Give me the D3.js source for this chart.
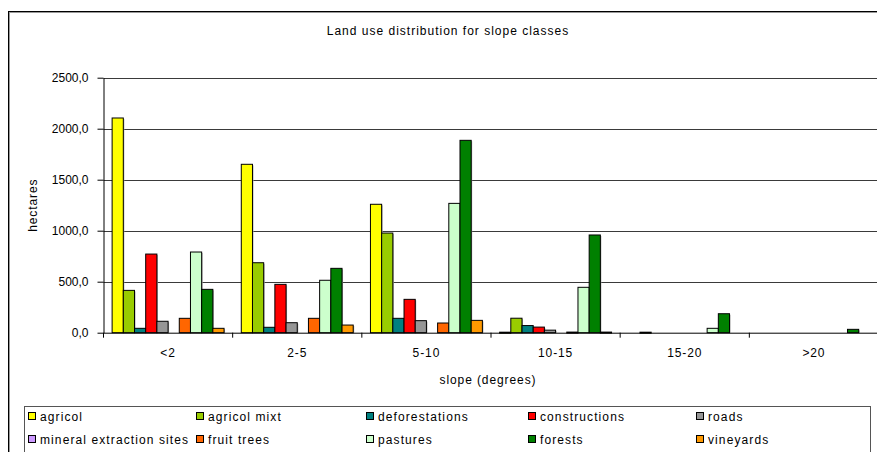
<!DOCTYPE html>
<html><head><meta charset="utf-8">
<script src="https://cdn.jsdelivr.net/npm/d3@7"></script>
<style>body{margin:0;background:#fff;}svg{display:block;font-family:"Liberation Sans",Arial,sans-serif;}</style>
</head><body><svg id="c" width="877" height="452"></svg>
<script>
const categories = ["<2", "2-5", "5-10", "10-15", "15-20", ">20"];
const seriesNames = ["agricol", "agricol mixt", "deforestations", "constructions", "roads",
  "mineral extraction sites", "fruit trees", "pastures", "forests", "vineyards"];
const seriesColors = ["#FFFF00", "#99CC00", "#008080", "#FF0000", "#969696",
  "#CC99FF", "#FF6600", "#CCFFCC", "#008000", "#FF9900"];
const agricol       = [2105, 1651, 1259, 5, 0, 0];
const agricolMixt   = [415, 686, 977, 142, 5, 0];
const deforestations= [43, 53, 141, 70, 0, 0];
const constructions = [771, 474, 327, 55, 0, 0];
const roads         = [112, 98, 118, 25, 0, 0];
const mineral       = [0, 0, 0, 0, 0, 0];
const fruitTrees    = [141, 141, 95, 6, 0, 0];
const pastures      = [791, 514, 1268, 445, 43, 0];
const forests       = [425, 631, 1886, 958, 186, 33];
const vineyards     = [43, 75, 121, 6, 0, 0];
const yTicks = [0, 500, 1000, 1500, 2000, 2500];

const seriesValues = [agricol, agricolMixt, deforestations, constructions, roads,
  mineral, fruitTrees, pastures, forests, vineyards];

const LS = "0.9px";
const svg = d3.select("#c");
// outer chart border
svg.append("rect").attr("x", 9.5).attr("y", 12.5).attr("width", 900).attr("height", 500)
  .attr("fill", "none").attr("stroke", "#999").attr("stroke-width", 1);
svg.append("rect").attr("x", 8.5).attr("y", 11.5).attr("width", 900).attr("height", 500)
  .attr("fill", "none").attr("stroke", "#000").attr("stroke-width", 1);

const L = 103.5, R = 878.5, T = 77.7, B = 332.7;
const x0 = d3.scaleBand().domain(categories).range([L, R]).paddingInner(0).paddingOuter(0);
const x1 = d3.scaleBand().domain(d3.range(seriesNames.length)).range([0, x0.bandwidth()])
  .paddingInner(0).paddingOuter(0.77);
const y = d3.scaleLinear().domain([0, 2500]).range([B, T]);

// title
svg.append("text").attr("x", 448).attr("y", 35).attr("text-anchor", "middle")
  .attr("font-size", 12).attr("letter-spacing", "1px").text("Land use distribution for slope classes");

// gridlines
svg.append("g").selectAll("line").data(yTicks.filter(d => d > 0)).join("line")
  .attr("x1", L).attr("x2", R + 10).attr("y1", d => Math.round(y(d)) + 0.5).attr("y2", d => Math.round(y(d)) + 0.5)
  .attr("stroke", "#3a3a3a").attr("stroke-width", 1);

// bars
const g = svg.append("g");
categories.forEach((c, ci) => {
  seriesValues.forEach((vals, si) => {
    const v = vals[ci];
    if (v <= 0) return;
    const bx = x0(c) + x1(si);
    const by = y(v);
    g.append("rect").attr("x", bx + 1).attr("y", by + 1).attr("width", x1.bandwidth())
      .attr("height", Math.max(B - by - 1, 0)).attr("fill", "#aaa");
    g.append("rect").attr("x", bx).attr("y", by).attr("width", x1.bandwidth())
      .attr("height", Math.max(B - by, 1)).attr("fill", seriesColors[si])
      .attr("stroke", "#000").attr("stroke-width", 1);
  });
});

// y axis
const yAxis = d3.axisLeft(y).tickValues(yTicks).tickSize(6).tickSizeOuter(0)
  .tickFormat(d => d3.format(".1f")(d).replace(".", ","));
const ya = svg.append("g").attr("transform", `translate(${L},0)`).call(yAxis);
ya.select(".domain").attr("stroke", "#000");
ya.selectAll("text").attr("font-size", 12).attr("font-family", "Liberation Sans, Arial, sans-serif").attr("fill", "#000").attr("x", -15);

// x axis
const xAxis = d3.axisBottom(x0).tickSize(0).tickSizeOuter(0);
const xa = svg.append("g").attr("transform", `translate(0,${B})`).call(xAxis);
xa.select(".domain").attr("stroke", "#000");
xa.selectAll("text").attr("font-size", 12).attr("font-family", "Liberation Sans, Arial, sans-serif")
  .attr("letter-spacing", LS).attr("fill", "#000").attr("dy", "1.8em");
// category separator ticks
svg.append("g").selectAll("line").data(categories.slice(1).concat(["__end"])).join("line")
  .attr("x1", (d, i) => L + (i + 1) * x0.step()).attr("x2", (d, i) => L + (i + 1) * x0.step())
  .attr("y1", B).attr("y2", B + 5).attr("stroke", "#000");
svg.append("line").attr("x1", L).attr("x2", L).attr("y1", B).attr("y2", B + 5).attr("stroke", "#000");

// axis titles
svg.append("text").attr("transform", `translate(37,${(T + B) / 2}) rotate(-90)`)
  .attr("text-anchor", "middle").attr("font-size", 12).attr("letter-spacing", LS).text("hectares");
svg.append("text").attr("x", (L + R) / 2 - 3).attr("y", 384).attr("text-anchor", "middle")
  .attr("font-size", 12).attr("letter-spacing", LS).text("slope (degrees)");

// legend
svg.append("rect").attr("x", 24.5).attr("y", 406.5).attr("width", 846).attr("height", 60)
  .attr("fill", "#fff").attr("stroke", "#555");
const legX = [28, 196, 366, 528, 696];
const legY = [417, 440];
seriesNames.forEach((n, i) => {
  const col = i % 5, row = Math.floor(i / 5);
  const lg = svg.append("g").attr("transform", `translate(${legX[col]},${legY[row]})`);
  lg.append("rect").attr("x", 0.5).attr("y", -4.5).attr("width", 7).attr("height", 7)
    .attr("fill", seriesColors[i]).attr("stroke", "#000");
  lg.append("text").attr("x", 12).attr("y", 4).attr("font-size", 12).attr("letter-spacing", "1.1px").text(n);
});
</script></body></html>
